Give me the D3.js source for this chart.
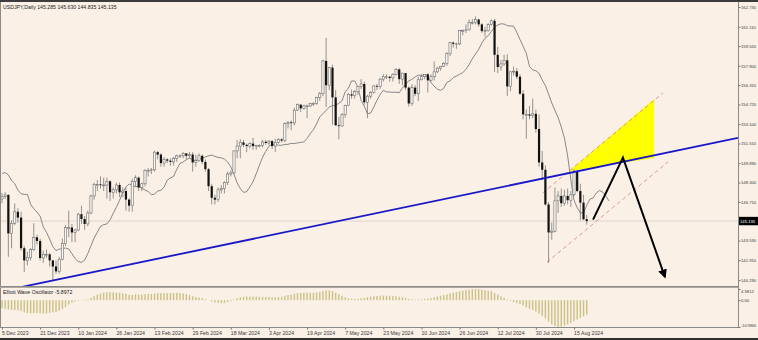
<!DOCTYPE html>
<html>
<head>
<meta charset="utf-8">
<script src="https://cdn.jsdelivr.net/npm/d3@7"></script>
<style>
  body { margin: 0; background: #faf0e6; }
  svg { display: block; font-family: "Liberation Sans", Arial, sans-serif; }
</style>
</head>
<body>
<svg id="chart" width="758" height="340"></svg>
<script>
// USDJPY daily, 5 Dec 2023 .. 21 Aug 2024 (bar index 0..184)
var opens = [
146.95,147.17,147.28,144.12,144.95,145.90,145.42,142.90,141.90,142.15,
142.80,143.80,143.50,142.10,142.40,142.40,141.90,141.40,141.00,142.00,
143.30,144.60,144.60,144.20,144.40,145.70,145.30,144.90,145.80,147.20,
148.15,148.15,148.10,148.10,148.40,147.50,147.70,148.10,147.50,147.60,
146.90,146.40,148.40,148.70,147.90,148.20,149.30,149.30,149.35,150.80,
150.60,149.90,150.20,150.10,150.00,150.30,150.50,150.50,150.70,150.50,
150.60,149.95,150.10,150.50,150.00,149.40,148.00,147.05,146.90,147.70,
147.80,148.30,149.00,149.10,150.90,151.30,151.60,151.40,151.30,151.50,
151.30,151.35,151.35,151.65,151.55,151.70,151.30,151.60,151.85,151.75,
153.15,153.25,153.20,154.25,154.70,154.40,154.60,154.60,154.80,154.80,
155.30,155.60,158.30,156.30,157.75,155.30,153.00,152.95,153.90,154.65,
155.55,155.45,155.80,156.20,156.40,154.90,155.40,155.70,156.25,156.20,
156.80,157.00,157.00,156.90,157.20,157.60,156.80,157.30,156.10,154.80,
156.10,155.60,156.75,157.00,157.20,156.70,157.00,157.40,157.70,157.85,
158.10,158.90,159.80,159.70,159.70,160.80,160.80,160.85,161.45,161.45,
161.70,161.30,160.75,160.80,161.30,161.60,158.80,157.80,158.05,158.35,
156.20,157.40,157.45,157.00,155.60,153.90,153.90,153.80,153.95,152.70,
149.95,149.35,146.50,144.20,144.30,146.80,147.20,146.60,147.20,146.85,
147.30,149.25,147.60,146.65,145.285];
var highs = [
147.45,147.50,147.35,145.20,146.58,146.20,145.90,143.10,142.60,142.90,
144.95,144.00,143.70,142.70,142.80,142.50,141.95,141.90,142.20,143.70,
144.80,145.98,144.90,144.50,145.80,146.40,145.55,146.00,147.30,148.30,
148.50,148.80,148.70,148.70,148.50,147.90,148.30,148.30,147.90,147.90,
147.00,148.60,148.90,148.80,148.30,149.40,149.50,149.50,150.90,150.90,
150.70,150.40,150.30,150.30,150.40,150.60,150.60,150.80,150.70,150.80,
150.80,150.60,150.70,150.60,150.20,149.50,148.20,147.30,147.90,148.10,
148.40,149.20,149.30,150.95,151.80,151.85,151.80,151.50,151.60,151.97,
151.40,151.45,151.80,151.80,151.80,151.80,151.90,151.95,151.95,153.25,
153.35,153.40,154.45,154.80,154.75,154.70,154.70,154.85,154.90,155.35,
155.75,158.40,160.20,157.80,157.99,155.90,153.70,154.00,154.70,155.65,
155.95,155.90,156.20,156.80,156.60,155.50,155.80,156.30,156.40,156.90,
157.20,157.20,157.05,157.30,157.70,157.70,157.30,157.30,156.20,156.40,
156.30,157.00,157.20,157.20,157.30,157.20,158.25,157.80,157.90,158.20,
159.00,159.85,159.90,159.80,160.85,160.90,161.30,161.70,161.75,161.95,
161.75,161.40,161.10,161.40,161.70,161.76,159.45,158.40,158.80,158.85,
157.50,157.85,157.70,157.20,155.90,154.30,154.60,155.20,154.30,153.90,
150.90,149.70,146.70,145.00,147.90,147.60,147.80,147.70,147.80,147.60,
149.40,149.30,148.20,147.30,145.63];
var lows = [
146.60,146.95,142.20,142.90,144.80,145.00,142.70,140.95,141.50,141.90,
142.70,143.20,141.90,141.70,142.10,141.40,140.25,140.80,140.80,141.90,
143.10,143.80,143.40,143.40,144.30,144.90,144.40,144.70,145.70,146.90,
147.60,147.80,147.60,146.98,146.80,147.00,147.40,147.10,147.10,146.00,
145.90,145.90,148.00,147.60,147.60,148.00,148.80,149.00,149.20,150.20,
149.60,149.60,149.90,149.70,149.70,150.00,150.30,150.30,150.20,150.30,
149.20,149.60,150.00,149.80,149.20,147.60,146.50,146.50,146.70,147.40,
147.40,148.10,148.80,149.00,150.30,150.30,151.20,150.80,151.10,151.00,
151.00,151.20,151.20,151.40,151.40,151.05,150.80,151.50,151.60,151.60,
152.75,152.60,153.00,154.20,154.10,154.30,153.60,154.50,154.60,154.70,
155.00,155.40,154.50,155.90,153.05,153.00,151.86,152.90,153.65,154.60,
155.20,155.20,155.50,156.00,154.70,153.60,155.20,155.60,155.90,156.00,
156.60,156.80,156.60,156.60,157.10,156.40,156.30,155.90,154.55,154.60,
155.40,155.00,156.70,156.80,155.70,156.60,156.70,157.30,157.50,157.80,
157.90,158.70,159.40,159.30,159.60,160.40,160.60,160.80,161.30,161.30,
161.10,160.60,160.30,160.70,161.20,157.40,157.30,157.50,157.90,155.40,
155.80,157.10,156.80,155.50,153.50,151.90,153.50,153.60,152.40,149.60,
148.50,146.40,141.68,143.60,144.20,145.80,146.30,146.40,146.50,146.30,
147.20,147.50,145.20,145.20,144.835];
var closes = [
147.17,147.28,144.12,144.95,145.90,145.42,142.90,141.90,142.15,142.80,
143.80,143.50,142.10,142.40,142.40,141.90,141.40,141.00,142.00,143.30,
144.60,144.60,144.20,144.40,145.70,145.30,144.90,145.80,147.20,148.15,
148.15,148.10,148.10,148.40,147.50,147.70,148.10,147.50,147.60,146.90,
146.40,148.40,148.70,147.90,148.20,149.30,149.30,149.35,150.80,150.60,
149.90,150.20,150.10,150.00,150.30,150.50,150.50,150.70,150.50,150.60,
149.95,150.10,150.50,150.00,149.40,148.00,147.05,146.90,147.70,147.80,
148.30,149.00,149.10,150.90,151.30,151.60,151.40,151.30,151.50,151.30,
151.35,151.35,151.65,151.55,151.70,151.30,151.60,151.85,151.75,153.15,
153.25,153.20,154.25,154.70,154.40,154.60,154.60,154.80,154.80,155.30,
155.60,158.30,156.30,157.75,155.30,153.00,152.95,153.90,154.65,155.55,
155.45,155.80,156.20,156.40,154.90,155.40,155.70,156.25,156.20,156.80,
157.00,157.00,156.90,157.20,157.60,156.80,157.30,156.10,154.80,156.10,
155.60,156.75,157.00,157.20,156.70,157.00,157.40,157.70,157.85,158.10,
158.90,159.80,159.70,159.70,160.80,160.80,160.85,161.45,161.45,161.70,
161.30,160.75,160.80,161.30,161.60,158.80,157.80,158.05,158.35,156.20,
157.40,157.45,157.00,155.60,153.90,153.90,153.80,153.95,152.70,149.95,
149.35,146.50,144.20,144.30,146.80,147.20,146.60,147.20,146.85,147.30,
149.25,147.60,146.65,145.285,145.135];
// closes 20 Nov .. 4 Dec 2023, only used to start the moving average
var priorCloses = [148.30,148.40,149.50,149.55,149.45,148.70,147.45,147.25,148.20,146.80,147.20];

// Elliott Wave Oscillator histogram
var ewo = [
-3.3,-3.5,-3.8,-4.0,-4.0,-4.1,-4.5,-5.0,-5.3,-5.4,
-5.3,-5.3,-5.4,-5.5,-5.4,-5.2,-5.0,-4.8,-4.3,-3.7,
-2.8,-1.8,-1.0,-0.5,-0.2,0.1,0.2,0.3,0.9,1.6,
2.3,2.8,3.1,3.3,3.3,3.2,3.1,3.0,2.8,2.6,
2.2,2.2,2.4,2.3,2.3,2.4,2.5,2.5,2.7,2.9,
2.9,2.9,2.9,2.9,3.0,3.0,2.9,2.7,2.5,2.1,
1.6,1.3,1.1,0.8,0.4,0.0,-0.5,-0.9,-1.1,-1.2,
-1.1,-0.8,-0.4,0.3,0.8,1.2,1.4,1.5,1.5,1.5,
1.5,1.4,1.4,1.3,1.3,1.2,1.2,1.3,1.4,1.8,
2.1,2.3,2.6,2.9,3.0,3.1,3.1,3.0,3.0,3.1,
3.3,3.8,3.9,4.0,3.7,3.0,2.4,1.8,1.2,0.8,
0.6,0.5,0.6,0.8,0.9,1.2,1.4,1.6,1.7,1.8,
1.9,1.9,1.8,1.7,1.6,1.4,1.2,0.9,0.5,0.3,
0.2,0.2,0.3,0.5,0.7,0.9,1.2,1.5,1.8,2.1,
2.4,2.8,3.1,3.4,3.7,3.9,4.1,4.3,4.5,4.58,
4.5,4.3,4.1,3.9,3.7,3.0,2.3,1.6,1.0,0.3,
-0.3,-0.8,-1.2,-1.6,-2.2,-2.9,-3.5,-4.0,-4.6,-5.5,
-6.4,-7.5,-8.8,-9.9,-10.6,-10.99,-10.8,-10.4,-9.9,-9.3,
-8.5,-7.9,-7.3,-6.6,-5.8972];

var priceTicks = [162.73,161.11,159.52,157.90,156.31,154.72,153.10,151.51,149.89,148.30,146.71,143.53,141.91,140.29];
var oscTicks = [4.5812, 0, -10.9866];
var oscTickLabels = ["4.5812", "0.00", "-10.9866"];
var dateTickIdx = [0,12,24,36,48,60,72,84,96,108,120,132,144,156,168,180];
var dateLabels = ["5 Dec 2023","21 Dec 2023","10 Jan 2024","26 Jan 2024","13 Feb 2024","29 Feb 2024",
  "18 Mar 2024","3 Apr 2024","19 Apr 2024","7 May 2024","23 May 2024","10 Jun 2024",
  "26 Jun 2024","12 Jul 2024","30 Jul 2024","15 Aug 2024"];
var lastPrice = 145.135;

// drawn objects, as [bar index, price] pairs
var trendLine = [[16, 140.25], [184, 149.38]];
var channelUpper = [[170.2, 147.45], [208.0, 155.66]];
var channelLower = [[171.5, 141.76], [209.6, 150.00]];
var triangle = [[178.4, 149.23], [205.2, 155.16], [205.2, 150.31]];
var arrowPath = [[186.0, 145.25], [195.4, 150.35], [208.6, 140.55]];

var maPeriod = 5, maShift = 7;

var svg = d3.select("#chart");
var W = 758, H = 340, plotR = 738;
var mainTop = 2, mainBot = 286, oscTop = 288, oscBot = 327;

var x = d3.scaleLinear().domain([0, 180]).range([2, 574]);
var y = d3.scaleLinear().domain([140.29, 162.73]).range([280, 7]);
var yo = d3.scaleLinear().domain([-10.9866, 4.5812]).range([327, 289]);

svg.append("rect").attr("width", W).attr("height", H).attr("fill", "#faf0e6");

var defs = svg.append("defs");
defs.append("clipPath").attr("id", "clipMain")
  .append("rect").attr("x", 0).attr("y", mainTop).attr("width", plotR).attr("height", mainBot - mainTop);
defs.append("clipPath").attr("id", "clipOsc")
  .append("rect").attr("x", 0).attr("y", oscTop).attr("width", plotR).attr("height", oscBot - oscTop);
defs.append("marker").attr("id", "arrowHead")
  .attr("viewBox", "0 0 10 10").attr("refX", 8).attr("refY", 5)
  .attr("markerWidth", 4.5).attr("markerHeight", 4.5).attr("orient", "auto")
  .append("path").attr("d", "M0,0 L10,5 L0,10 z").attr("fill", "#000");

var main = svg.append("g").attr("clip-path", "url(#clipMain)");

// current price line
main.append("line")
  .attr("x1", 0).attr("x2", plotR)
  .attr("y1", y(lastPrice)).attr("y2", y(lastPrice))
  .attr("stroke", "#d8cfc6").attr("stroke-width", 0.8);

// yellow triangle
var pt = function(d) { return [x(d[0]), y(d[1])]; };
main.append("polygon")
  .attr("points", triangle.map(function(d) { return pt(d).join(","); }).join(" "))
  .attr("fill", "#ffff00");

// dashed channel
[channelUpper, channelLower].forEach(function(c) {
  main.append("line")
    .attr("x1", x(c[0][0])).attr("y1", y(c[0][1]))
    .attr("x2", x(c[1][0])).attr("y2", y(c[1][1]))
    .attr("stroke", "#e07c7c").attr("stroke-width", 0.8)
    .attr("stroke-dasharray", "4,3");
});

// moving average, shifted forward
var allCloses = priorCloses.concat(closes);
var off = priorCloses.length;
var ma = [];
for (var i = 0; i <= closes.length - 1 + maShift; i++) {
  var src = i - maShift + off;
  if (src - maPeriod + 1 < 0 || src >= allCloses.length) continue;
  ma.push([i, d3.mean(allCloses.slice(src - maPeriod + 1, src + 1))]);
}
main.append("path")
  .attr("d", d3.line().x(function(d) { return x(d[0]); }).y(function(d) { return y(d[1]); })(ma))
  .attr("fill", "none").attr("stroke", "#6c6c6c").attr("stroke-width", 0.8);

// candles
var bars = d3.range(closes.length);
main.append("g").selectAll("line").data(bars).join("line")
  .attr("x1", function(i) { return x(i); }).attr("x2", function(i) { return x(i); })
  .attr("y1", function(i) { return y(highs[i]); }).attr("y2", function(i) { return y(lows[i]); })
  .attr("stroke", "#7a7a7a").attr("stroke-width", 0.8);
main.append("g").selectAll("rect").data(bars).join("rect")
  .attr("x", function(i) { return x(i) - 1.1; })
  .attr("width", 2.2)
  .attr("y", function(i) { return y(Math.max(opens[i], closes[i])); })
  .attr("height", function(i) { return Math.max(0.8, Math.abs(y(opens[i]) - y(closes[i]))); })
  .attr("fill", function(i) { return closes[i] >= opens[i] ? "#fbf7f1" : "#111"; })
  .attr("stroke", function(i) { return closes[i] >= opens[i] ? "#6e6e6e" : "none"; })
  .attr("stroke-width", 0.6);

// blue trend line, extended over the whole panel
var t0 = trendLine[0], t1 = trendLine[1];
var slope = (t1[1] - t0[1]) / (t1[0] - t0[0]);
var iL = x.invert(0), iR = x.invert(plotR);
main.append("line")
  .attr("x1", x(iL)).attr("y1", y(t0[1] + slope * (iL - t0[0])))
  .attr("x2", x(iR)).attr("y2", y(t0[1] + slope * (iR - t0[0])))
  .attr("stroke", "#1818c8").attr("stroke-width", 1.8);

// forecast arrows
main.append("path")
  .attr("d", d3.line().x(function(d) { return x(d[0]); }).y(function(d) { return y(d[1]); })(arrowPath))
  .attr("fill", "none").attr("stroke", "#000").attr("stroke-width", 2)
  .attr("stroke-linejoin", "miter")
  .attr("marker-end", "url(#arrowHead)");

// oscillator histogram
svg.append("g").attr("clip-path", "url(#clipOsc)")
  .selectAll("rect").data(bars).join("rect")
  .attr("x", function(i) { return x(i) - 0.7; })
  .attr("width", 1.4)
  .attr("y", function(i) { return Math.min(yo(0), yo(ewo[i])); })
  .attr("height", function(i) { return Math.abs(yo(ewo[i]) - yo(0)); })
  .attr("fill", "#cbc185");

// frame
svg.append("rect").attr("x", 0).attr("y", 0).attr("width", W).attr("height", 2).attr("fill", "#3c3c3c");
svg.append("rect").attr("x", 0).attr("y", 338).attr("width", W).attr("height", 2).attr("fill", "#2e2e2e");
var frame = svg.append("g").attr("stroke", "#8a8a8a").attr("stroke-width", 1);
frame.append("line").attr("x1", 0.5).attr("x2", 0.5).attr("y1", 2).attr("y2", oscBot + 1);
frame.append("line").attr("x1", plotR + 0.5).attr("x2", plotR + 0.5).attr("y1", 2).attr("y2", oscBot + 1);
frame.append("line").attr("x1", 0).attr("x2", plotR).attr("y1", mainBot + 0.5).attr("y2", mainBot + 0.5);
frame.append("line").attr("x1", 0).attr("x2", plotR).attr("y1", oscTop - 0.5).attr("y2", oscTop - 0.5).attr("stroke", "#b0a9a2");
frame.append("line").attr("x1", 0).attr("x2", plotR).attr("y1", oscBot + 0.5).attr("y2", oscBot + 0.5);

// axes
var fontSize = 5.2, sideFont = 4.2;
var pAxis = svg.append("g").attr("transform", "translate(" + (plotR + 0.5) + ",0)")
  .call(d3.axisRight(y).tickValues(priceTicks).tickSize(2).tickPadding(0.5).tickFormat(d3.format(".3f")));
var oAxis = svg.append("g").attr("transform", "translate(" + (plotR + 0.5) + ",0)")
  .call(d3.axisRight(yo).tickValues(oscTicks).tickSize(2).tickPadding(0.5)
    .tickFormat(function(d, i) { return oscTickLabels[i]; }));
var dAxis = svg.append("g").attr("transform", "translate(0," + (oscBot + 0.5) + ")")
  .call(d3.axisBottom(x).tickValues(dateTickIdx).tickSize(2).tickPadding(2)
    .tickFormat(function(d, i) { return dateLabels[i]; }));
dAxis.selectAll("text").attr("text-anchor", "start").attr("dx", -0.5);
[pAxis, oAxis, dAxis].forEach(function(a) {
  a.select(".domain").remove();
  a.selectAll("line").attr("stroke", "#777");
  a.selectAll("text").attr("font-size", fontSize).attr("fill", "#3a3a3a")
    .attr("font-family", "Liberation Sans, Arial, sans-serif");
});
// the right-hand strip is only ~17px wide
pAxis.selectAll("text").attr("font-size", sideFont);
oAxis.selectAll("text").attr("font-size", function(d) { return d === oscTicks[2] ? 3.8 : sideFont; });
oAxis.selectAll(".tick text").attr("dy", function(d) { return d === oscTicks[0] ? "0.9em" : (d === oscTicks[2] ? "-0.1em" : "0.32em"); });

// last price box
svg.append("rect").attr("x", plotR + 1).attr("y", y(lastPrice) - 4.2).attr("width", W - plotR - 1).attr("height", 8.4).attr("fill", "#000");
svg.append("text").attr("x", plotR + 2).attr("y", y(lastPrice)).attr("dy", "0.35em")
  .attr("font-size", sideFont).attr("fill", "#fff")
  .text(lastPrice.toFixed(3));

// captions
svg.append("text").attr("x", 3).attr("y", 9).attr("font-size", fontSize).attr("fill", "#222")
  .text("USDJPY,Daily  145.285 145.630 144.835 145.135");
svg.append("text").attr("x", 3).attr("y", 294).attr("font-size", fontSize).attr("fill", "#222")
  .text("Elliott Wave Oscillator -5.8972");
</script>
</body>
</html>
